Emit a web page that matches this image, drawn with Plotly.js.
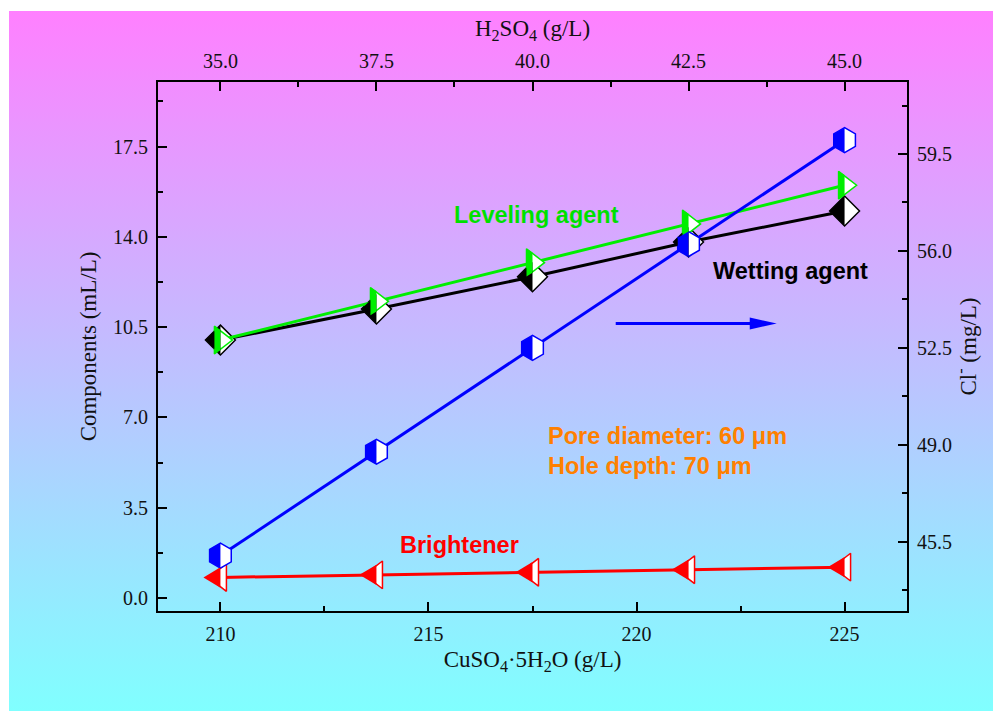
<!DOCTYPE html>
<html>
<head>
<meta charset="utf-8">
<script src="https://cdn.plot.ly/plotly-3.0.1.min.js"></script>
<style>
  html, body { margin: 0; padding: 0; background: #ffffff; }
  #wrap { position: relative; width: 993px; height: 711px; overflow: hidden; }
  #bg { position: absolute; left: 9px; top: 11px; width: 984px; height: 700px;
        background: linear-gradient(to bottom, #ff80ff 0%, #80ffff 100%); }
  #chart { position: absolute; left: 0; top: 0; width: 993px; height: 711px; }
</style>
</head>
<body>
<div id="wrap">
  <div id="bg"></div>
  <div id="chart"></div>
</div>
<script>
// Bath composition versus copper sulfate concentration
const cuso4 = [210, 213.75, 217.5, 221.25, 225];          // CuSO4·5H2O (g/L), bottom axis
const h2so4 = [35.0, 37.5, 40.0, 42.5, 45.0];              // H2SO4 (g/L), top axis
const wetting = [10.0, 11.2, 12.45, 13.8, 15.0];           // mL/L
const leveling = [10.0, 11.5, 13.0, 14.5, 16.0];           // mL/L
const brightener = [0.8, 0.9, 1.0, 1.1, 1.2];              // mL/L
const chloride = [45.0, 48.75, 52.5, 56.25, 60.0];         // Cl- (mg/L), right axis

const serif = 'Liberation Serif, Times New Roman, serif';
const sans = 'Liberation Sans, Arial, sans-serif';

// Series styling: Plotly symbol plus the matching left-half path for the two-tone marker
const series = [
  { name: 'Wetting agent', y: wetting, yaxis: 'y', color: '#000000', symbol: 'diamond', size: 23 },
  { name: 'Leveling agent', y: leveling, yaxis: 'y', color: '#00ee00', symbol: 'triangle-right', size: 24 },
  { name: 'Brightener', y: brightener, yaxis: 'y', color: '#ff0000', symbol: 'triangle-left', size: 24 },
  { name: 'Cl-', y: chloride, yaxis: 'y2', color: '#0000ff', symbol: 'hexagon', size: 25 }
];

// Left (coloured) half of each Plotly marker symbol, in pixels around the marker centre
function leftHalfPath(symbol, size) {
  const r = size / 2;
  const f = v => v.toFixed(2);
  if (symbol === 'hexagon') {
    const rs = r * Math.sqrt(3) / 2, r2 = r / 2;
    return `M0,${f(r)}L${f(-rs)},${f(r2)}L${f(-rs)},${f(-r2)}L0,${f(-r)}Z`;
  }
  if (symbol === 'diamond') {
    const rd = r * 1.3;
    return `M0,${f(rd)}L${f(-rd)},0L0,${f(-rd)}Z`;
  }
  const rt = r * 2 / Math.sqrt(3), r2 = r / 2, rs = r * Math.SQRT2;
  const yh = rt * rs / (rs + r2);
  if (symbol === 'triangle-right') {
    return `M${f(-r2)},${f(rt)}L0,${f(yh)}L0,${f(-yh)}L${f(-r2)},${f(-rt)}Z`;
  }
  // triangle-left: tip side is the coloured half
  return `M${f(-rs)},0L0,${f(yh)}L0,${f(-yh)}Z`;
}

const traces = series.map(s => ({
  type: 'scatter',
  mode: 'lines+markers',
  name: s.name,
  x: cuso4,
  y: s.y,
  yaxis: s.yaxis,
  line: { color: s.color, width: 3 },
  marker: { symbol: s.symbol, size: s.size, color: '#ffffff', line: { color: s.color, width: 1.5 } },
  showlegend: false,
  hoverinfo: 'x+y'
}));

// Top axis carries the sulfuric acid concentration
traces.push({
  type: 'scatter', mode: 'none', x: h2so4, y: brightener,
  xaxis: 'x2', yaxis: 'y', showlegend: false, hoverinfo: 'skip'
});

const shapes = [];
series.forEach(s => {
  const path = leftHalfPath(s.symbol, s.size);
  cuso4.forEach((xv, i) => {
    shapes.push({
      type: 'path', layer: 'above',
      xref: 'x', yref: s.yaxis,
      xsizemode: 'pixel', ysizemode: 'pixel',
      xanchor: xv, yanchor: s.y[i],
      path: path,
      fillcolor: s.color,
      line: { width: 0 }
    });
  });
});

// Arrow pointing to the right-hand (Cl-) axis
const arrowAnchor = { x: 219.5, y: 10.64 };
shapes.push({
  type: 'line', layer: 'above', xref: 'x', yref: 'y',
  xsizemode: 'pixel', ysizemode: 'pixel',
  xanchor: arrowAnchor.x, yanchor: arrowAnchor.y,
  x0: 0, x1: 138, y0: 0, y1: 0,
  line: { color: '#0000ff', width: 3 }
});
shapes.push({
  type: 'path', layer: 'above', xref: 'x', yref: 'y',
  xsizemode: 'pixel', ysizemode: 'pixel',
  xanchor: arrowAnchor.x, yanchor: arrowAnchor.y,
  path: 'M134,6L161,0L134,-6Z',
  fillcolor: '#0000ff', line: { width: 0 }
});

const tickFont = { family: serif, size: 20, color: '#111111' };
const titleFont = { family: serif, size: 23, color: '#111111' };
const labelSize = 23.5;
const axisCommon = {
  showline: true, linecolor: '#000000', linewidth: 2,
  ticks: 'inside', ticklen: 9, tickwidth: 2, tickcolor: '#000000',
  showgrid: false, zeroline: false, tickfont: tickFont,
  ticklabelstandoff: 4
};

const layout = {
  width: 993, height: 711,
  margin: { l: 158, r: 86, t: 82, b: 100 },
  paper_bgcolor: 'rgba(0,0,0,0)',
  plot_bgcolor: 'rgba(0,0,0,0)',
  showlegend: false,
  xaxis: Object.assign({}, axisCommon, {
    range: [208.5, 226.5], tick0: 210, dtick: 5,
    minor: { ticks: 'inside', ticklen: 5, tickwidth: 2, tickcolor: '#000000', tick0: 210, dtick: 2.5, showgrid: false },
    title: { text: 'CuSO<sub>4</sub>·5H<sub>2</sub>O (g/L)', font: titleFont, standoff: 7 }
  }),
  xaxis2: Object.assign({}, axisCommon, {
    overlaying: 'x', side: 'top', anchor: 'y',
    range: [34.0, 46.0], tickvals: h2so4, tickformat: '.1f',
    minor: { ticks: 'inside', ticklen: 5, tickwidth: 2, tickcolor: '#000000', tick0: 35, dtick: 1.25, showgrid: false },
    title: { text: 'H<sub>2</sub>SO<sub>4</sub> (g/L)', font: titleFont, standoff: 7 }
  }),
  yaxis: Object.assign({}, axisCommon, {
    range: [-0.5, 20.0], tick0: 0, dtick: 3.5, tickformat: '.1f',
    minor: { ticks: 'inside', ticklen: 5, tickwidth: 2, tickcolor: '#000000', tick0: 0, dtick: 1.75, showgrid: false },
    title: { text: 'Components (mL/L)', font: titleFont, standoff: 10 }
  }),
  yaxis2: Object.assign({}, axisCommon, {
    overlaying: 'y', side: 'right', anchor: 'x',
    range: [43.0, 62.1], tick0: 45.5, dtick: 3.5, tickformat: '.1f',
    minor: { ticks: 'inside', ticklen: 5, tickwidth: 2, tickcolor: '#000000', tick0: 45.5, dtick: 1.75, showgrid: false },
    title: { text: 'Cl<sup>-</sup> (mg/L)', font: titleFont, standoff: 6 }
  }),
  shapes: shapes,
  annotations: [
    { text: 'Leveling agent', x: 217.6, y: 14.86, xref: 'x', yref: 'y', showarrow: false,
      font: { family: sans, size: labelSize, color: '#00e000', weight: 'bold' } },
    { text: 'Wetting agent', x: 223.69, y: 12.69, xref: 'x', yref: 'y', showarrow: false,
      font: { family: sans, size: labelSize, color: '#000000', weight: 'bold' } },
    { text: 'Brightener', x: 215.75, y: 2.04, xref: 'x', yref: 'y', showarrow: false,
      font: { family: sans, size: labelSize, color: '#ff0000', weight: 'bold' } },
    { text: 'Pore diameter: 60 μm', x: 217.82, y: 6.27, xref: 'x', yref: 'y', xanchor: 'left', showarrow: false,
      font: { family: sans, size: labelSize, color: '#ff8000', weight: 'bold' } },
    { text: 'Hole depth: 70 μm', x: 217.82, y: 5.10, xref: 'x', yref: 'y', xanchor: 'left', showarrow: false,
      font: { family: sans, size: labelSize, color: '#ff8000', weight: 'bold' } }
  ]
};

Plotly.newPlot('chart', traces, layout, { displayModeBar: false, staticPlot: true });
</script>
</body>
</html>
